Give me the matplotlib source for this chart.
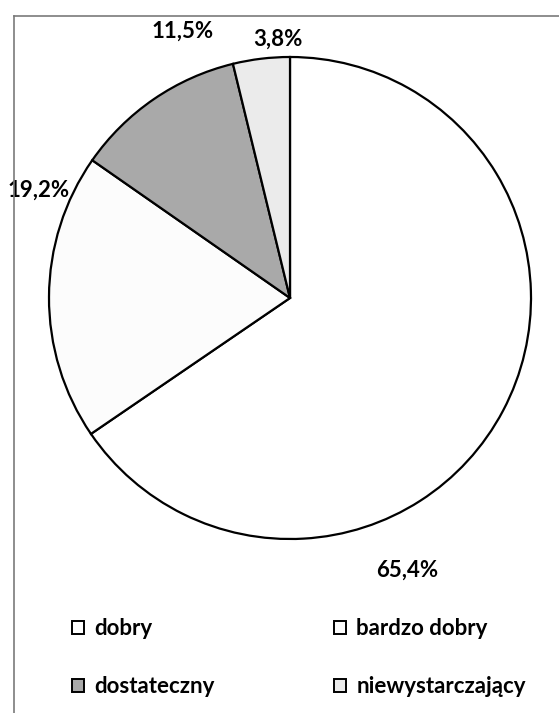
import matplotlib.pyplot as plt
from matplotlib.lines import Line2D

categories = ["dobry", "bardzo dobry", "dostateczny", "niewystarczający"]
shares = [65.4, 19.2, 11.5, 3.8]
label_texts = ["65,4%", "19,2%", "11,5%", "3,8%"]
colors = ["#ffffff", "#fcfcfc", "#a9a9a9", "#ebebeb"]

# where the percent labels sit (pixels from the top-left corner)
label_pos = [(407, 570), (39, 190), (183, 31), (278, 39)]

W, H = 559, 713
FS = 16
plt.rcParams['font.family'] = ['Lato', 'DejaVu Sans']

fig = plt.figure(figsize=(W / 100, H / 100), dpi=100)
ax = fig.add_axes([0, 0, 1, 1])

wedges, _ = ax.pie(shares, colors=colors, startangle=90, counterclock=False,
                   center=(290, H - 298), radius=241,
                   wedgeprops=dict(edgecolor="black", linewidth=1.6))
ax.set_xlim(0, W)
ax.set_ylim(0, H)
ax.set_aspect("equal")
ax.axis("off")

for txt, (x, y) in zip(label_texts, label_pos):
    ax.text(x, H - y, txt, ha="center", va="center", fontsize=FS, fontweight="bold")

# outer chart frame (only left and top edges fall inside the crop)
fig.add_artist(Line2D([13.5 / W, 13.5 / W], [0, 1 - 15.5 / H], transform=fig.transFigure,
                      color="#7a7a7a", linewidth=1.2))
fig.add_artist(Line2D([13.5 / W, 1], [1 - 15.5 / H, 1 - 15.5 / H], transform=fig.transFigure,
                      color="#7a7a7a", linewidth=1.2))

# legend filled row by row
order = [0, 2, 1, 3]
leg = fig.legend([wedges[i] for i in order], [categories[i] for i in order],
                 ncol=2, loc="upper left", bbox_to_anchor=(61 / W, 1 - 607 / H),
                 frameon=False, prop=dict(weight="bold", size=FS),
                 handlelength=0.54, handleheight=0.54, handletextpad=0.45,
                 columnspacing=5.4, labelspacing=1.68, borderpad=0)
for h in leg.legend_handles:
    h.set_edgecolor("black")
    h.set_linewidth(1.4)

fig.savefig("out.png", dpi=100)
